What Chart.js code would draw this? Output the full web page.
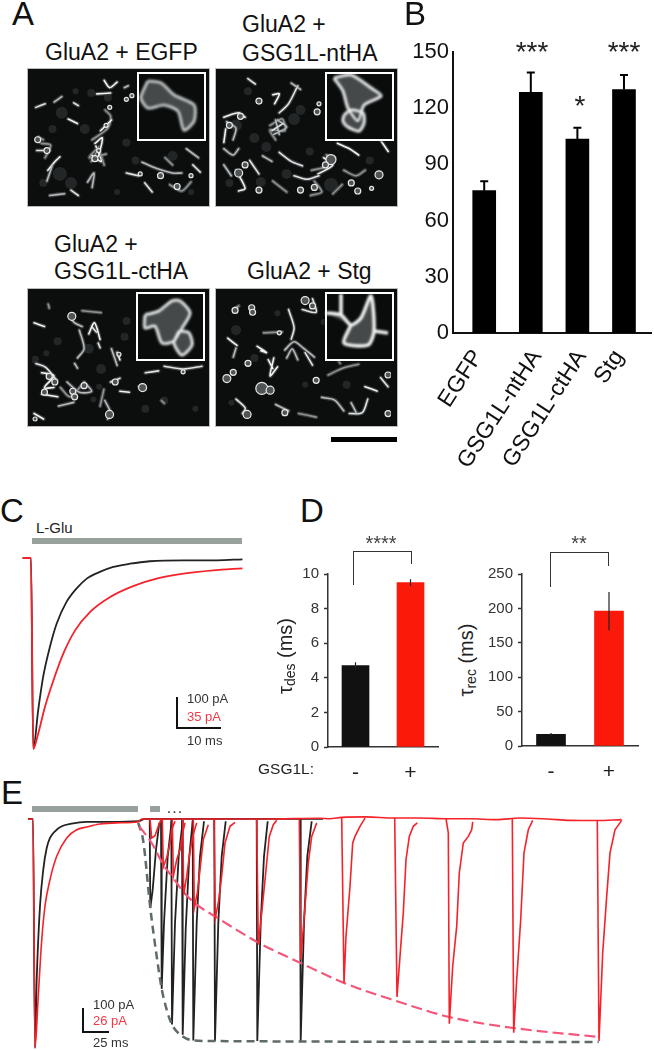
<!DOCTYPE html>
<html>
<head>
<meta charset="utf-8">
<title>GSG1L figure</title>
<script src="https://cdn.jsdelivr.net/npm/chart.js@4"></script>
<style>
html, body { margin: 0; padding: 0; background: #fff; }
#page { position: relative; width: 654px; height: 1050px; overflow: hidden; font-family: "Liberation Sans", Arial, sans-serif; }
#page canvas { position: absolute; }
.txt { position: absolute; white-space: nowrap; line-height: 1; }
.box { position: absolute; }
.micro { filter: blur(0.5px); }
</style>
</head>
<body>
<div id="page"></div>
<script>
// panel B
var bLabels = ['EGFP', 'GSG1L-ntHA', 'GSG1L-ctHA', 'Stg'];
var bLabelPos = [0.87, 2.13, 3.09, 3.89];
var bValues = [76, 128.5, 103.5, 130];
var bErrorTop = [81, 139, 109.5, 137.7];
var bTicks = [0, 30, 60, 90, 120, 150];

// panel D
var dLabels = ['-', '+'];
var desValues = [4.7, 9.5];
var desErrLow = [4.5, 9.3];
var desErrHigh = [4.9, 9.7];
var recValues = [17, 196];
var recErrLow = [15, 168];
var recErrHigh = [19, 224];

// panel C, [ms, % of peak]
var cBlack = [[-1.85,0],[0,0],[0.5,-100],[1.6,-79.8],[2.7,-62.3],[4.2,-46.6],[5.7,-34.4],[7.9,-23],[10.1,-16],[12.4,-10.8],[15.3,-7.3],[18.3,-4.7],[22,-3],[26.4,-1.7],[33.9,-1.2],[41.3,-1.2],[47,-0.7]];
var cRed = [[-1.85,0],[0,0],[0.5,-100],[1.6,-92],[3.1,-78],[5,-64],[7.2,-50],[9.8,-37.9],[13.1,-28.3],[17.6,-20.4],[22.7,-14.7],[27.9,-10.8],[33.9,-8.2],[40.5,-6.5],[47,-5.4]];

// panel E, [ms, % of peak]
var eBlackMain = [[-5,0],[0,0],[2,-100],[3.7,-70],[7,-38],[10.3,-22],[13.7,-12.7],[17,-8.3],[22,-5.4],[28.7,-3.2],[38.7,-2],[53.7,-1.3],[77,-1.3],[105.3,-1],[112,0],[290,0]];
var eBlackSpikes = [
  [[116.7,0],[117.3,-38.9],[119.7,-30.9],[123,-13.4],[126.3,-1.7]],
  [[128,0],[128.7,-74.2],[131,-45.4],[134.7,-16.3],[138.7,-1]],
  [[138.3,0],[139,-89.8],[142,-45.4],[145.7,-16.3],[149.7,-1]],
  [[149,0],[149.7,-94.2],[152.7,-48.3],[156.3,-16.3],[159.7,-1]],
  [[159.7,0],[160.3,-96.7],[163.7,-45.4],[167,-16.3],[171,-1]],
  [[181.3,0],[182,-97],[185.3,-45.4],[188.7,-16.3],[192.7,-1]],
  [[223.7,0],[224.3,-97],[227.7,-45.4],[231,-16.3],[234.7,-1]],
  [[267,0],[267.7,-97],[271,-45.4],[274.3,-16.3],[278.7,-1]]
];
var eRedMain = [[-5,0],[0,0],[2,-100],[5.3,-77],[8.7,-53],[12,-38],[17,-26.5],[23.7,-16.3],[33.7,-8.3],[43.7,-4.7],[53.7,-3.5],[67,-2.2],[83.7,-1.7],[105.3,-1.2],[108.7,0],[113.7,0],[167,0],[233.7,0],[287,0.3],[297,0.1],[308.7,0.7],[333.7,0.9],[360.3,0.4],[387,0.4],[413.7,0.1],[437,0.1],[463.7,-0.3],[487,0.4],[513.7,0],[537,-0.6],[563.7,-0.7],[588.7,-0.3]];
var eRedSpikes = [
  [[117,0],[118.7,-8.3],[122,-7.3],[125.3,-3.2],[128,-0.3]],
  [[129.3,0],[130.3,-21],[133.7,-17],[137,-10.5],[138.7,-4.7],[142,-1]],
  [[139.3,0],[140.3,-25],[143.7,-17.8],[147,-13.4],[149.7,-6.1],[152,-1.7]],
  [[149.7,0],[150.7,-33],[153.7,-25],[156.3,-16.3],[159.7,-7.6],[163.7,-1.7]],
  [[160.3,0],[161.3,-38.9],[164.3,-32.3],[167,-22.1],[170.3,-9],[175.3,-2.5]],
  [[181,0],[182.3,-43.2],[185.3,-36.7],[188.7,-25],[192,-10.5],[197,-3.2],[202,-1.5]],
  [[223.7,0],[225.3,-54.9],[228.7,-41],[232.7,-23.6],[236.3,-7.6],[240.3,-2.5],[243.7,-0.6]],
  [[266.3,0],[267.7,-61.4],[271,-44],[275.3,-19.2],[278.7,-7.6],[283.7,-1.7]],
  [[308.7,0.7],[311,-71.6],[313,-51.2],[317,-29.4],[319.7,-10.5],[322,-7.6],[327,-3.2],[332,0.4]],
  [[361.7,0.4],[364,-77.7],[367,-60],[370.3,-41],[373,-17.8],[376.3,-7.6],[380.3,-3.2],[384.3,-1.7]],
  [[413,0.1],[415.3,-6.1],[416.3,-89.4],[419.7,-64.3],[423.7,-46.9],[426.3,-23.6],[430.3,-10.5],[435.3,-7.6],[438.7,-4.7],[439.7,-1.3]],
  [[479.3,0.3],[480.7,-93.4],[483.7,-70.2],[487.7,-44],[491,-14.8],[495.3,-4.7],[499.7,-0.6]],
  [[564.3,-0.7],[566,-97],[569.7,-58.5],[573.7,-33.8],[577,-14.8],[582,-4.7],[588.7,-0.6]]
];
var eGrayEnvelope = [[105.3,-1.7],[110.3,-9.8],[117.3,-38.9],[123.7,-60],[128.7,-74.2],[133.7,-83.3],[139,-89.8],[149.7,-95],[160.3,-96.7],[182,-97],[565.7,-97.4]];
var eRedEnvelope = [[106.3,-3.2],[118.7,-10.5],[130.3,-20],[140.3,-25.8],[150.7,-32],[163.7,-37.4],[182.3,-42.6],[225.3,-54],[267.7,-62.9],[311,-71.6],[364,-79.6],[416.3,-86.5],[480.7,-91.3],[565.7,-95.2]];

// panel A micrographs, image coordinates
var a1Strokes = [[[68,21],[83,20]],[[98,14],[102,12]],[[2,36],[12,32]],[[63,72],[80,59],[83,46],[77,39]],[[62,89],[73,96],[67,79]],[[58,119],[65,109],[63,125]],[[3,84],[17,84]],[[5,69],[10,72]],[[15,106],[23,96],[28,91]],[[117,97],[133,104],[150,109],[160,109]],[[100,109],[113,112]],[[147,122],[160,129],[170,119]],[[37,49],[47,54]],[[17,134],[33,132]],[[43,31],[48,34]],[[70,80],[60,92],[78,88]],[[72,62],[84,50]],[[165,82],[178,92]],[[120,120],[128,130]],[[62,96],[70,84],[76,100]],[[66,76],[74,70],[70,90]],[[20,100],[14,118]],[[40,128],[48,134]],[[150,100],[142,92]],[[90,8],[82,14],[76,6]],[[30,24],[22,30]],[[172,100],[180,108]],[[8,76],[18,78],[12,92]]];
var a1Rings = [[106,23,2],[100,27,2],[82,36,2],[137,112,3],[155,124,3],[170,112,2],[4,72,3],[14,84,3],[66,93,3],[115,110,2],[70,84,2],[78,56,2]];
var a1Dim = [[30,42,6],[40,120,6],[62,20,4],[28,110,7],[80,25,4],[150,90,5],[110,95,4],[10,120,4],[55,60,5],[90,130,3],[45,18,3],[20,60,4],[100,75,4],[170,130,3]];
var a2Strokes = [[[2,47],[18,42],[25,47]],[[5,52],[15,59],[12,72]],[[62,42],[72,32],[82,12]],[[52,56],[65,49],[68,62],[52,61],[58,72]],[[55,22],[62,21],[57,32]],[[75,9],[85,16]],[[62,86],[75,96],[87,101]],[[97,106],[112,102],[122,92],[113,89]],[[15,106],[25,126],[18,129]],[[2,82],[12,89],[18,82]],[[78,112],[92,116],[105,112]],[[132,106],[145,112],[155,106]],[[125,76],[138,82],[148,89]],[[58,50],[62,66]],[[30,95],[40,110]],[[55,118],[70,130]],[[170,70],[180,85]],[[60,50],[70,58],[56,66]],[[54,62],[66,54]],[[100,118],[108,130],[96,134]],[[110,92],[120,100],[104,110]],[[2,100],[10,112]],[[28,4],[36,10]],[[120,132],[130,122]],[[4,60],[2,75]],[[44,90],[54,96]]];
var a2Rings = [[170,111,4],[118,94,5],[18,109,4],[40,29,3],[103,41,3],[162,126,2],[147,129,3],[105,32,2],[100,125,3],[85,128,3],[40,128,3],[25,100,3],[140,120,3],[8,56,3],[20,46,3],[112,100,3]];
var a2Dim = [[15,56,6],[78,49,6],[118,122,7],[42,119,5],[85,39,5],[35,70,5],[8,120,4],[95,85,4],[160,95,4],[28,18,4],[48,80,5],[70,110,5]];
var a3Strokes = [[[10,86],[23,89],[13,102],[23,102]],[[37,96],[50,107],[63,106],[55,96]],[[83,96],[93,92]],[[113,101],[120,104]],[[90,64],[93,72]],[[40,26],[45,32],[53,36]],[[63,36],[68,42]],[[53,19],[73,21]],[[2,32],[13,36]],[[45,76],[48,81]],[[70,54],[72,59]],[[17,12],[18,16]],[[10,109],[27,112]],[[77,116],[83,129],[80,136]],[[140,79],[160,82],[180,79]],[[137,116],[140,119]],[[93,106],[103,107]],[[50,40],[55,60],[48,70]],[[4,76],[14,80],[26,94]],[[30,102],[40,112],[52,100]],[[60,44],[66,32],[72,50]],[[84,60],[90,78]],[[120,86],[134,84]],[[76,104],[72,122]],[[2,130],[12,136]],[[28,122],[44,118]]];
var a3Rings = [[42,25,4],[82,131,4],[117,102,4],[43,106,3],[13,107,3],[88,96,3],[45,112,3],[18,90,3],[160,85,2],[3,136,2],[55,100,3],[24,96,3],[92,66,2]];
var a3Dim = [[98,47,4],[27,52,4],[73,82,5],[3,72,4],[173,125,3],[65,115,3],[71,101,3],[100,30,4],[140,116,4],[60,60,5],[15,65,3],[120,125,4]];
var a4Strokes = [[[38,57],[48,64],[42,62]],[[68,61],[78,52],[88,59],[100,69]],[[72,16],[78,36],[75,49]],[[45,42],[65,41]],[[50,72],[55,82]],[[15,59],[12,69]],[[87,16],[102,19],[98,4]],[[12,16],[18,12]],[[42,102],[52,106]],[[108,114],[122,117],[132,129]],[[138,132],[152,131],[158,116]],[[115,89],[132,81],[148,77]],[[155,102],[168,107]],[[58,122],[72,129]],[[15,116],[25,126],[22,132]],[[83,132],[102,136]],[[60,80],[52,90],[56,70]],[[70,70],[76,60],[82,72]],[[90,64],[98,78]],[[120,64],[128,76]],[[6,48],[16,56]],[[140,120],[146,132]],[[172,92],[180,102]]];
var a4Rings = [[32,14,3],[14,17,3],[27,133,4],[68,131,3],[5,93,4],[43,104,6],[52,106,4],[28,76,3],[12,86,3],[102,95,3],[33,19,3],[180,89,3],[180,132,3],[62,42,2],[90,6,4],[98,12,3]];
var a4Dim = [[15,39,5],[125,59,3],[10,120,3],[90,100,3],[60,20,3],[135,100,4],[110,30,3],[35,70,4]];
var strokeShades = ['#f2f4f4', '#b4b8b8', '#dfe2e2', '#8c9090'];

// insets, cell outlines
var i1Cells = [[[11,9],[24,11],[37,23],[57,33],[57,49],[47,58],[41,39],[27,33],[11,36],[4,26],[9,13],[11,9]]];
var i2Cells = [[[9,6],[26,3],[46,16],[56,24],[39,33],[33,49],[23,36],[18,19],[9,6]],[[19,43],[26,38],[38,41],[39,51],[34,59],[23,55],[18,49],[19,43]]];
var i3Cells = [[[9,23],[23,19],[36,9],[44,9],[54,21],[46,36],[38,49],[26,51],[19,34],[9,36],[9,23]],[[43,39],[53,41],[56,53],[46,63],[38,51],[43,39]]];
var i4Cells = [[[1,21],[16,23],[26,33],[36,26],[46,4],[49,39],[43,53],[19,51],[26,33]],[[49,39],[63,41]],[[16,2],[16,23]]];

var page = document.getElementById('page');
Chart.defaults.animation = false;
Chart.defaults.responsive = false;
Chart.defaults.font.family = '"Liberation Sans", Arial, sans-serif';
Chart.defaults.plugins.legend.display = false;
Chart.defaults.plugins.tooltip.enabled = false;

function addCanvas(x, y, w, h) {
  var c = document.createElement('canvas');
  c.width = w; c.height = h;
  c.style.left = x + 'px'; c.style.top = y + 'px';
  c.style.width = w + 'px'; c.style.height = h + 'px';
  page.appendChild(c);
  return c;
}

function text(str, x, base, size, color, align) {
  var d = document.createElement('div');
  d.className = 'txt';
  d.textContent = str;
  d.style.left = x + 'px';
  d.style.top = (base - 0.8465 * size) + 'px';
  d.style.fontSize = size + 'px';
  d.style.color = color || '#111';
  if (align === 'center') d.style.transform = 'translateX(-50%)';
  page.appendChild(d);
  return d;
}

function box(x, y, w, h, color) {
  var d = document.createElement('div');
  d.className = 'box';
  d.style.cssText = 'left:' + x + 'px;top:' + y + 'px;width:' + w + 'px;height:' + h + 'px;background:' + color;
  page.appendChild(d);
}

function tauLabel(sub, cx, cy) {
  var d = document.createElement('div');
  d.className = 'txt';
  d.innerHTML = '\u03c4<sub style="font-size:14px;vertical-align:-3px">' + sub + '</sub> (ms)';
  d.style.left = cx + 'px';
  d.style.top = cy + 'px';
  d.style.fontSize = '20px';
  d.style.color = '#222';
  d.style.transform = 'translate(-50%,-50%) rotate(-90deg)';
  page.appendChild(d);
}

// a picture panel drawn as a scatter chart
function hiddenScales(xMin, xMax, yMin, yMax, rev) {
  return {
    x: { type: 'linear', display: false, min: xMin, max: xMax },
    y: { type: 'linear', display: false, min: yMin, max: yMax, reverse: !!rev }
  };
}

function lineSet(pts, color, width, extra) {
  var s = { data: pts, showLine: true, pointRadius: 0, borderColor: color, borderWidth: width, fill: false };
  for (var k in extra) s[k] = extra[k];
  return s;
}

// chart.js paints dataset 0 last, so the lists below are reversed
function micrograph(x, y, strokes, rings, dim) {
  var c = addCanvas(x, y, 183, 139);
  c.className = 'micro';
  c.style.background = '#0c0e0e';
  c.style.outline = '1px solid #b9bdbb';
  c.style.outlineOffset = '-1px';
  var sets = [];
  sets.push({ data: dim, pointRadius: function(k) { return k.raw[2]; }, backgroundColor: '#222626', borderWidth: 0 });
  strokes.forEach(function(p) { sets.push(lineSet(p, '#3c4040', 4, { tension: 0.3, borderCapStyle: 'round' })); });
  strokes.forEach(function(p, i) {
    sets.push(lineSet(p, strokeShades[i % strokeShades.length], 1.6, { tension: 0.3, borderCapStyle: 'round' }));
  });
  sets.push({ data: rings, pointRadius: function(k) { return k.raw[2]; }, backgroundColor: '#505454', borderColor: '#e8eaea', borderWidth: 1.2 });
  new Chart(c, { type: 'scatter', data: { datasets: sets.reverse() }, options: { scales: hiddenScales(0, 183, 0, 139, true) } });
}

function inset(x, y, cells, glow) {
  var c = addCanvas(x, y, 69, 69);
  c.className = 'micro';
  c.style.background = '#0a0c0c';
  c.style.filter = 'blur(1px)';
  var sets = [];
  cells.forEach(function(p) {
    sets.push(lineSet(p, '#777c7c', 4, { fill: 'shape', backgroundColor: '#454949', tension: 0.25 }));
  });
  cells.forEach(function(p) {
    sets.push(lineSet(p, '#f2f4f4', glow, { tension: 0.25 }));
  });
  new Chart(c, { type: 'scatter', data: { datasets: sets.reverse() }, options: { scales: hiddenScales(0, 69, 0, 69, true) } });
  var f = document.createElement('div');
  f.className = 'box';
  f.style.cssText = 'left:' + x + 'px;top:' + y + 'px;width:65px;height:65px;border:2px solid #fff';
  page.appendChild(f);
}

// error bars placed through the chart's own scales
function errorBars(low, high, capWidth, lineWidth, color) {
  return {
    id: 'errorBars',
    afterDatasetsDraw: function(chart) {
      var g = chart.ctx, yScale = chart.scales.y;
      g.save();
      g.strokeStyle = color;
      g.lineWidth = lineWidth;
      chart.getDatasetMeta(0).data.forEach(function(bar, i) {
        var y0 = yScale.getPixelForValue(low[i]), y1 = yScale.getPixelForValue(high[i]);
        g.beginPath();
        g.moveTo(bar.x, y0); g.lineTo(bar.x, y1);
        if (capWidth) { g.moveTo(bar.x - capWidth / 2, y1); g.lineTo(bar.x + capWidth / 2, y1); }
        g.stroke();
      });
      g.restore();
    }
  };
}

// panel A
micrograph(27, 68, a1Strokes, a1Rings, a1Dim);
micrograph(215, 68, a2Strokes, a2Rings, a2Dim);
micrograph(27, 288, a3Strokes, a3Rings, a3Dim);
micrograph(215, 288, a4Strokes, a4Rings, a4Dim);
inset(137, 72, i1Cells, 1.2);
inset(325, 72, i2Cells, 2.2);
inset(136, 292, i3Cells, 2);
inset(325, 292, i4Cells, 3.2);
text('A', 12, 25, 33);
text('GluA2 + EGFP', 45, 60, 23);
text('GluA2 +', 242, 32, 23);
text('GSG1L-ntHA', 242, 61, 23);
text('GluA2 +', 54, 252, 23);
text('GSG1L-ctHA', 54, 279, 23);
text('GluA2 + Stg', 247, 279, 23);
box(331, 437, 66, 5, '#000');

// panel B
text('B', 404, 25, 33);
new Chart(addCanvas(400, 30, 254, 450), {
  type: 'bar',
  data: { datasets: [{
    data: bValues.map(function(v, i) { return { x: i + 1, y: v }; }),
    backgroundColor: '#000', barThickness: 23
  }] },
  options: {
    layout: { padding: { top: 22 } },
    scales: {
      x: {
        type: 'linear', min: 0.33, max: 4.6, offset: false,
        afterFit: function(s) { s.height = 147; },
        afterBuildTicks: function(s) { s.ticks = bLabelPos.map(function(v) { return { value: v }; }); },
        grid: { display: false, drawTicks: false },
        border: { color: '#111', width: 2 },
        ticks: {
          autoSkip: false, minRotation: 57, maxRotation: 57, padding: 12, color: '#111',
          font: { size: 23 },
          callback: function(v, i) { return bLabels[i]; }
        }
      },
      y: {
        min: 0, max: 150,
        afterFit: function(s) { s.width = 53; },
        afterBuildTicks: function(s) { s.ticks = bTicks.map(function(v) { return { value: v }; }); },
        grid: { display: false, drawTicks: false },
        border: { color: '#111', width: 2 },
        ticks: { color: '#111', padding: 4, font: { size: 22 } }
      }
    }
  },
  plugins: [errorBars(bValues, bErrorTop, 8, 2, '#000')]
});
text('***', 532, 62, 28, '#222', 'center');
text('*', 580, 116, 28, '#222', 'center');
text('***', 624, 62, 28, '#222', 'center');

// panel C
text('C', 0, 522, 33);
box(32, 538, 210, 6, '#97a09a');
text('L-Glu', 36, 533, 15, '#222');
new Chart(addCanvas(20, 550, 230, 210), {
  type: 'scatter',
  data: { datasets: [
    lineSet(cRed, '#f5222a', 1.8, { cubicInterpolationMode: 'monotone' }),
    lineSet(cBlack, '#222', 1.8, { cubicInterpolationMode: 'monotone' })
  ] },
  options: { scales: hiddenScales(-2.44, 48.67, -105.8, 4.19) }
});
box(176, 697, 2, 32, '#111');
box(176, 727, 45, 2, '#111');
text('100 pA', 187, 703, 13, '#333');
text('35 pA', 187, 721, 13, '#f23a46');
text('10 ms', 187, 745, 13, '#333');

// panel D
function dChart(x, w, top, yWidth, padTop, xHeight, values, low, high, yMax, yStep, barW) {
  new Chart(addCanvas(x, top, w, 225), {
    type: 'bar',
    data: { labels: dLabels, datasets: [{
      data: values, backgroundColor: ['#111', '#fb1a0a'], barThickness: barW
    }] },
    options: {
      layout: { padding: { top: padTop, right: 12 } },
      scales: {
        x: {
          afterFit: function(s) { s.height = xHeight; },
          grid: { display: false },
          border: { color: '#333', width: 1.5 },
          ticks: { color: '#222', padding: 6, font: { size: 21 } }
        },
        y: {
          min: 0, max: yMax,
          afterFit: function(s) { s.width = yWidth; },
          grid: { drawOnChartArea: false, tickLength: 4, tickWidth: 1.5, tickColor: '#333' },
          border: { color: '#333', width: 1.5 },
          ticks: { stepSize: yStep, color: '#333', padding: 5, font: { size: 15 } }
        }
      }
    },
    plugins: [errorBars(low, high, 0, 1.2, '#222')]
  });
}
text('D', 300, 522, 33);
dChart(290, 160, 560, 38, 12, 38, desValues, desErrLow, desErrHigh, 10, 2, 27);
dChart(480, 170, 560, 42, 11, 39, recValues, recErrLow, recErrHigh, 250, 50, 29);
tauLabel('des', 286, 656);
tauLabel('rec', 467, 660);
text('GSG1L:', 258, 774, 15.5, '#222');
// significance brackets
box(353, 551, 59, 1.3, '#333'); box(353, 551, 1.3, 34, '#333'); box(411, 551, 1.3, 13, '#333');
box(550, 552, 59, 1.3, '#333'); box(550, 552, 1.3, 35, '#333'); box(608, 552, 1.3, 14, '#333');
text('****', 381, 550, 20, '#444', 'center');
text('**', 579, 550, 20, '#444', 'center');

// panel E
text('E', 1, 804, 33);
box(32, 806, 106, 6, '#97a09a');
box(150, 806, 10, 6, '#97a09a');
text('...', 175, 814, 16, '#333', 'center').style.letterSpacing = '1px';
var eSets = [];
eSets.push(lineSet(eBlackMain, '#222', 1.8, { cubicInterpolationMode: 'monotone' }));
eBlackSpikes.forEach(function(s) { eSets.push(lineSet(s, '#222', 1.8)); });
eSets.push(lineSet(eGrayEnvelope, '#5f6b68', 2.5, { borderDash: [8, 5], cubicInterpolationMode: 'monotone' }));
eSets.push(lineSet(eRedEnvelope, '#f4567a', 2.2, { borderDash: [11, 5], cubicInterpolationMode: 'monotone' }));
eSets.push(lineSet(eRedMain, '#f5222a', 1.6, { cubicInterpolationMode: 'monotone' }));
eRedSpikes.forEach(function(s) { eSets.push(lineSet(s, '#f5222a', 1.6)); });
new Chart(addCanvas(20, 805, 620, 245), {
  type: 'scatter',
  data: { datasets: eSets.reverse() },
  options: { scales: hiddenScales(-13, 607, -100.9, 6.1) }
});
box(82, 1008, 2, 25, '#111');
box(82, 1031, 27, 2, '#111');
text('100 pA', 93, 1009, 13, '#333');
text('26 pA', 93, 1025, 13, '#f23a46');
text('25 ms', 93, 1047, 13, '#333');
</script>
</body>
</html>
